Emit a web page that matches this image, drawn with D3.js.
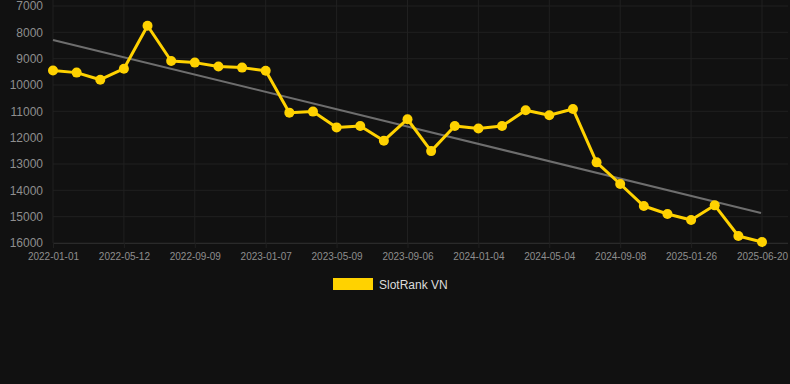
<!DOCTYPE html>
<html><head><meta charset="utf-8">
<script src="https://cdn.jsdelivr.net/npm/d3@7"></script>
<style>
html,body{margin:0;padding:0;background:#111111;}
svg{display:block;font-family:"Liberation Sans",Arial,sans-serif;}
</style></head>
<body><svg id="c" width="790" height="384"></svg>
<script>
const categories = ["2022-01-01","2022-02-14","2022-03-29","2022-05-12","2022-06-21","2022-07-31","2022-09-09","2022-10-19","2022-11-28","2023-01-07","2023-02-17","2023-03-29","2023-05-09","2023-06-18","2023-07-28","2023-09-06","2023-10-16","2023-11-25","2024-01-04","2024-02-13","2024-03-24","2024-05-04","2024-06-15","2024-07-27","2024-09-08","2024-10-24","2024-12-10","2025-01-26","2025-03-14","2025-05-01","2025-06-20"];
const rankValues = [9450,9530,9800,9380,7750,9090,9150,9300,9340,9457,11050,11010,11610,11560,12115,11300,12510,11560,11650,11560,10960,11150,10910,12937,13760,14596,14900,15128,14570,15735,15963];
const yTicks = [7000,8000,9000,10000,11000,12000,13000,14000,15000,16000];
const seriesName = "SlotRank VN";

(function () {
const svg = d3.select("#c");
const pLeft = 53, pRight = 762, pTop = 6, pBottom = 243;
const x = d3.scalePoint().domain(categories).range([pLeft, pRight]);
const y = d3.scaleLinear().domain([7000, 16000]).range([pTop, pBottom]);
const gridColor = "#202020";

svg.append("g").selectAll("line").data(yTicks).join("line")
  .attr("x1", pLeft).attr("x2", pRight + 26)
  .attr("y1", d => y(d)).attr("y2", d => y(d))
  .attr("stroke", gridColor).attr("stroke-width", 1);
const xLabelCats = categories.filter((d, i) => i % 3 === 0);
svg.append("g").selectAll("line").data(xLabelCats).join("line")
  .attr("x1", d => x(d)).attr("x2", d => x(d))
  .attr("y1", 0).attr("y2", pBottom)
  .attr("stroke", gridColor).attr("stroke-width", 1);

const yAxis = d3.axisLeft(y).tickValues(yTicks).tickSize(0).tickPadding(10).tickFormat(d3.format("d"));
const gy = svg.append("g").attr("transform", `translate(${pLeft},0)`).call(yAxis);
gy.select(".domain").remove();
gy.selectAll("text").attr("fill", "#8e8e8e").style("font-size", "12px").style("font-family", "'Liberation Sans',Arial,sans-serif");

const xAxis = d3.axisBottom(x).tickValues(xLabelCats).tickSize(5).tickPadding(5);
const gx = svg.append("g").attr("transform", `translate(0,${pBottom})`).call(xAxis);
gx.select(".domain").attr("stroke", "#2a2a2a").attr("d", `M${pLeft},0.5H${pRight + 26}`);
gx.selectAll("line").attr("stroke", gridColor);
gx.selectAll("text").attr("fill", "#8e8e8e").style("font-size", "10px").style("font-family", "'Liberation Sans',Arial,sans-serif");

const n = rankValues.length;
const idx = d3.range(n);
const mx = d3.mean(idx), my = d3.mean(rankValues);
const slope = d3.sum(idx, i => (i - mx) * (rankValues[i] - my)) / d3.sum(idx, i => (i - mx) ** 2);
const icpt = my - slope * mx;
svg.append("line")
  .attr("x1", x(categories[0])).attr("y1", y(icpt))
  .attr("x2", x(categories[n - 1]) - 1).attr("y2", y(icpt + slope * (n - 1)))
  .attr("stroke", "#6e6e6e").attr("stroke-width", 2);

const color = "#FFD200";
svg.append("path")
  .datum(rankValues)
  .attr("fill", "none").attr("stroke", color).attr("stroke-width", 3).attr("stroke-linejoin", "round")
  .attr("d", d3.line().x((d, i) => x(categories[i])).y(d => y(d)));
svg.append("g").selectAll("circle").data(rankValues).join("circle")
  .attr("cx", (d, i) => x(categories[i])).attr("cy", d => y(d)).attr("r", 5)
  .attr("fill", color);

const lg = svg.append("g");
lg.append("rect").attr("x", 333).attr("y", 278).attr("width", 40).attr("height", 12).attr("fill", color);
lg.append("text").attr("x", 379).attr("y", 288.5).text(seriesName)
  .attr("fill", "#dcdcdc").style("font-size", "12px");
})();
</script></body></html>
